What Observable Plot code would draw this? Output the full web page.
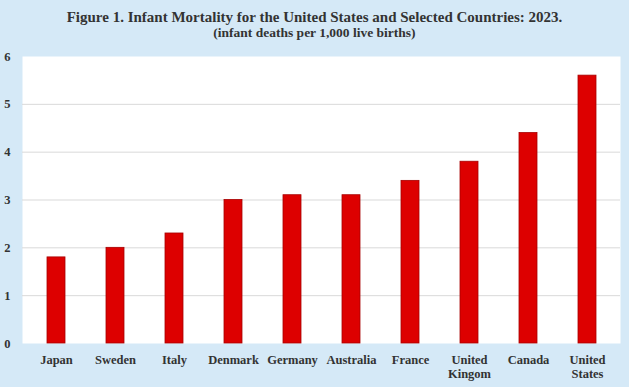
<!DOCTYPE html>
<html>
<head>
<meta charset="utf-8">
<script src="https://cdn.jsdelivr.net/npm/d3@7"></script>
<script src="https://cdn.jsdelivr.net/npm/@observablehq/plot@0.6"></script>
<style>
  html, body { margin: 0; padding: 0; }
  body { width: 629px; height: 387px; background: #D5E9F7; overflow: hidden; font-family: "Liberation Serif", "Times New Roman", serif; }
  #title { height: 45px; text-align: center; color: #333; font-weight: bold; }
  #title .t { font-size: 15px; padding-top: 9px; line-height: 17px; }
  #title .s { font-size: 13.5px; line-height: 14px; }
  svg { display: block; }
</style>
</head>
<body>
<div id="title">
  <div class="t">Figure 1. Infant Mortality for the United States and Selected Countries: 2023.</div>
  <div class="s">(infant deaths per 1,000 live births)</div>
</div>
<div id="chart"></div>
<script>
const countries = ["Japan", "Sweden", "Italy", "Denmark", "Germany", "Australia", "France", "United Kingom", "Canada", "United States"];
const rates = [1.8, 2.0, 2.3, 3.0, 3.1, 3.1, 3.4, 3.8, 4.4, 5.6];
const yTicks = [0, 1, 2, 3, 4, 5, 6];

const data = countries.map((c, i) => ({country: c, rate: rates[i]}));

const chart = Plot.plot({
  width: 629,
  height: 342,
  marginTop: 11,
  marginBottom: 44,
  marginLeft: 22,
  marginRight: 9,
  style: {background: "transparent", fontFamily: "'Liberation Serif', 'Times New Roman', serif", fontSize: "12.5px", fontWeight: "bold", color: "#333"},
  x: {domain: countries, paddingInner: 0.7, paddingOuter: 0.35, label: null},
  y: {domain: [0, 6], label: null},
  marks: [
    Plot.frame({fill: "white", stroke: null}),
    Plot.gridY(yTicks.filter(t => t > 0 && t < 6), {stroke: "#D9D9D9", strokeOpacity: 1}),
    Plot.barY(data, {x: "country", y: "rate", fill: "#DD0000", stroke: "#A80000", strokeWidth: 0.8}),
    Plot.axisX({tickSize: 0, tickPadding: 10, tickFormat: d => d.replace(" ", "\n"), fill: "#333", lineHeight: 1.15}),
    Plot.axisY({ticks: yTicks, tickSize: 0, tickPadding: 12, tickFormat: d => String(d), fill: "#333"})
  ]
});
document.getElementById("chart").appendChild(chart);
</script>
</body>
</html>
